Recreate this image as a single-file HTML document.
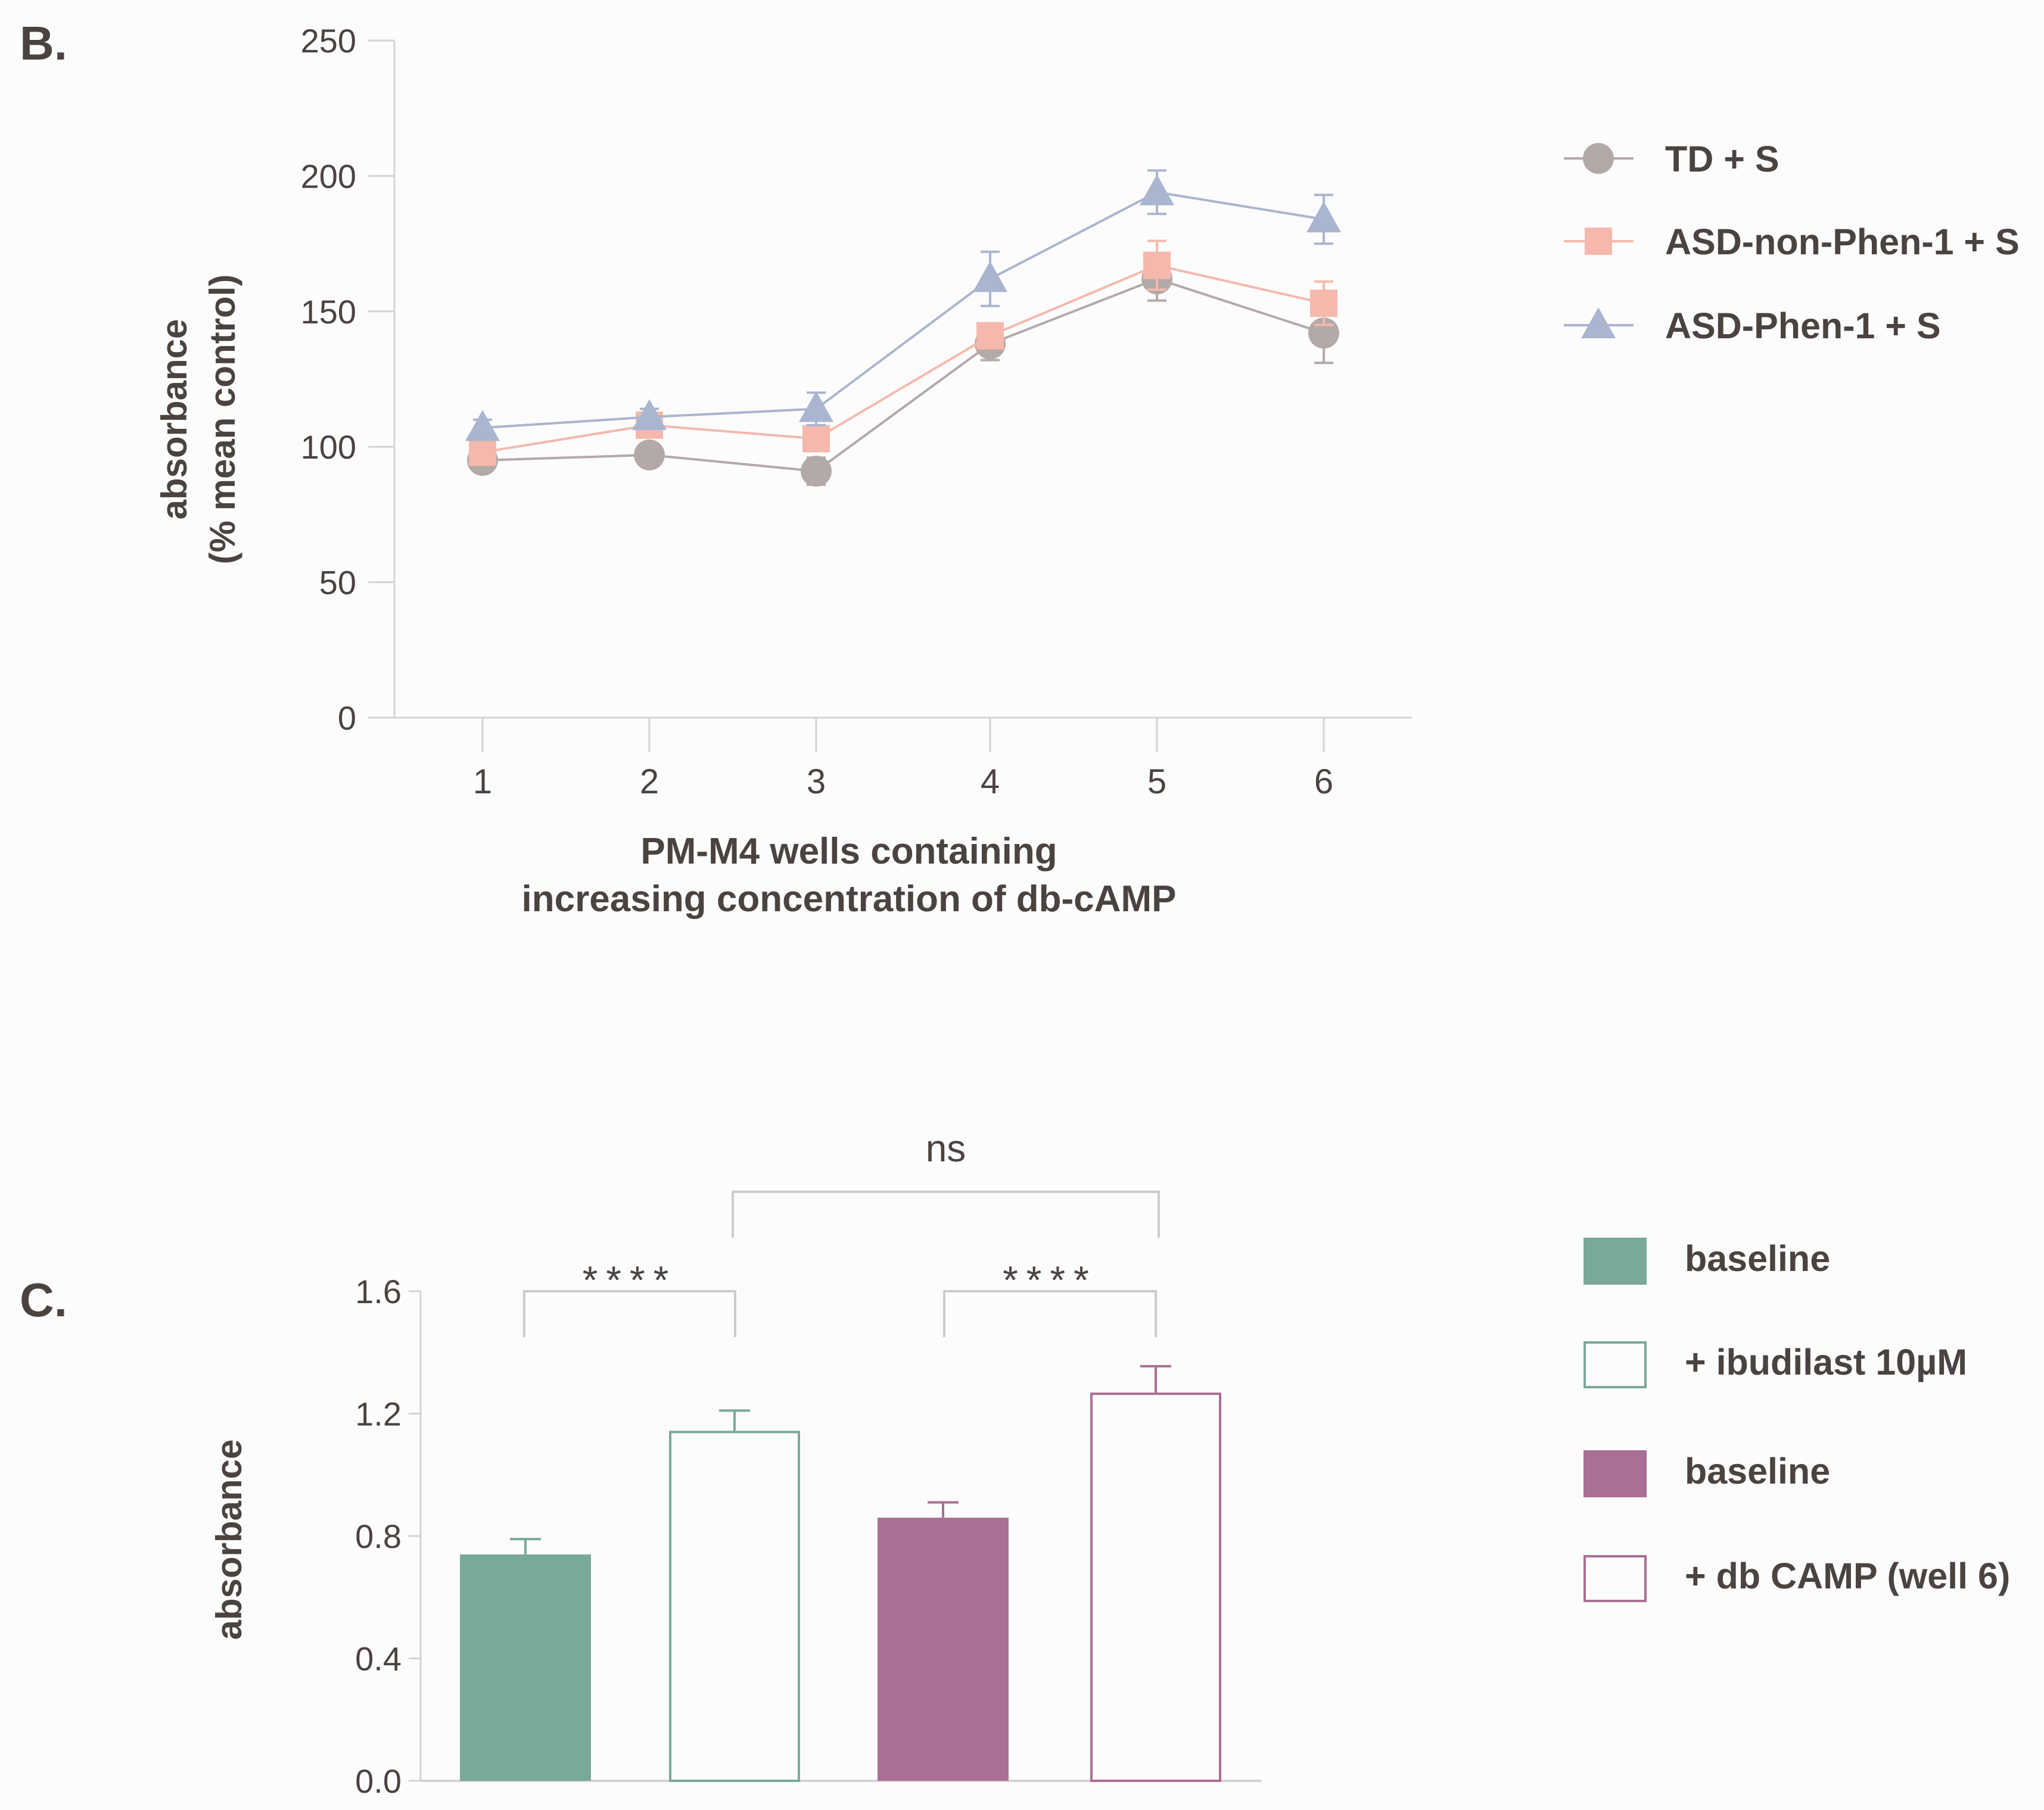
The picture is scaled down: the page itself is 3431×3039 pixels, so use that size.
<!DOCTYPE html>
<html><head><meta charset="utf-8">
<style>
html,body{margin:0;padding:0;background:#fdfcfc;}
svg{display:block;}
text{font-family:"Liberation Sans",Arial,sans-serif;fill:#4a4340;}
</style></head>
<body>
<svg id="fig" width="3431" height="3039" viewBox="0 0 3431 3039" xmlns="http://www.w3.org/2000/svg">
<rect width="3431" height="3039" fill="#fdfcfc"/>
<text x="33" y="100" font-size="80" font-weight="bold">B.</text>
<text x="33" y="2210" font-size="80" font-weight="bold">C.</text>
<g id="chartB"></g>
<g id="chartC"></g>
</svg>
<script>
// ---- Chart B data ----
const wells = [1,2,3,4,5,6];
const yTicksB = [0,50,100,150,200,250];
const tdMean = [95,97,91,138,162,142];
const tdErr = [3,3,5,6,8,11];
const nonMean = [98,108,103,141,167,153];
const nonErr = [3,3,4,4,9,8];
const phenMean = [107,111,114,162,194,184];
const phenErr = [3,3,6,10,8,9];
// ---- Chart C data ----
const barLabels = ["baseline","+ ibudilast 10µM","baseline","+ db CAMP (well 6)"];
const barValues = [0.74,1.14,0.86,1.265];
const barErrors = [0.05,0.07,0.05,0.09];
const yTicksC = [0.0,0.4,0.8,1.2,1.6];
const yTickLabelsC = ["0.0","0.4","0.8","1.2","1.6"];

const NS="http://www.w3.org/2000/svg";
function mk(parent,tag,attrs,txt){const e=document.createElementNS(NS,tag);for(const k in attrs)e.setAttribute(k,attrs[k]);if(txt!==undefined)e.textContent=txt;parent.appendChild(e);return e;}

// ===== Chart B =====
const gB=document.getElementById('chartB');
const xPosB=[810,1090,1370,1662,1942,2222];
function xB(i){return xPosB[i];}
function yB(v){return 1205-(v/250)*(1205-68);}
const axisCol="#d6d2d0";
let e;
e=mk(gB,'line',{x1:662,y1:68,x2:662,y2:1205,stroke:axisCol,'stroke-width':3});

e=mk(gB,'line',{x1:662,y1:1205,x2:2370,y2:1205,stroke:axisCol,'stroke-width':3});

yTicksB.forEach(v=>{
  e=mk(gB,'line',{x1:618,y1:yB(v),x2:662,y2:yB(v),stroke:axisCol,'stroke-width':3});
  
  e=mk(gB,'text',{x:598,y:yB(v)+20,'font-size':56,'text-anchor':'end'},String(v));
  
});
wells.forEach((w,i)=>{
  e=mk(gB,'line',{x1:xB(i),y1:1205,x2:xB(i),y2:1263,stroke:axisCol,'stroke-width':3});
  
  e=mk(gB,'text',{x:xB(i),y:1332,'font-size':58,'text-anchor':'middle'},String(w));
  
});
e=mk(gB,'text',{x:1425,y:1450,'font-size':62,'font-weight':'bold','text-anchor':'middle'},"PM-M4 wells containing");

e=mk(gB,'text',{x:1425,y:1530,'font-size':62,'font-weight':'bold','text-anchor':'middle'},"increasing concentration of db-cAMP");

e=mk(gB,'text',{x:0,y:0,'font-size':60,'font-weight':'bold','text-anchor':'middle',transform:'translate(313,704) rotate(-90)'},"absorbance");

e=mk(gB,'text',{x:0,y:0,'font-size':60,'font-weight':'bold','text-anchor':'middle',transform:'translate(394,704) rotate(-90)'},"(% mean control)");


function marker(g,type,cx,cy,col,name){
  let m;
  if(type==='circle')m=mk(g,'circle',{cx:cx,cy:cy,r:26,fill:col});
  else if(type==='square')m=mk(g,'rect',{x:cx-23,y:cy-23,width:46,height:46,fill:col});
  else m=mk(g,'polygon',{points:`${cx},${cy-30} ${cx-29},${cy+22} ${cx+29},${cy+22}`,fill:col});
  
}
function series(mean,err,col,type,name){
  const g=mk(gB,'g',{});
  
  const pts=mean.map((v,i)=>xB(i)+','+yB(v)).join(' ');
  e=mk(g,'polyline',{points:pts,fill:'none',stroke:col,'stroke-width':4});
  
  mean.forEach((v,i)=>{
    const x=xB(i);
    e=mk(g,'path',{d:`M${x},${yB(v-err[i])}V${yB(v+err[i])}M${x-16},${yB(v-err[i])}H${x+16}M${x-16},${yB(v+err[i])}H${x+16}`,stroke:col,'stroke-width':4,fill:'none'});
    
    marker(g,type,x,yB(v),col,name+'-point');
  });
}
const cTD="#b3aaa8",cNon="#f4b9ac",cPhen="#aab5d0";
series(tdMean,tdErr,cTD,'circle','td');
series(nonMean,nonErr,cNon,'square','asd-non-phen');
series(phenMean,phenErr,cPhen,'triangle','asd-phen');

const legB=[["TD + S",cTD,'circle',266],["ASD-non-Phen-1 + S",cNon,'square',405],["ASD-Phen-1 + S",cPhen,'triangle',546]];
legB.forEach(l=>{
  const g=mk(gB,'g',{});
  
  e=mk(g,'line',{x1:2625,y1:l[3],x2:2742,y2:l[3],stroke:l[1],'stroke-width':4});
  
  marker(g,l[2],2683,l[3],l[1],'legend-marker');
  e=mk(g,'text',{x:2795,y:l[3]+22,'font-size':61,'font-weight':'bold'},l[0]);
  
});

// ===== Chart C =====
const gC=document.getElementById('chartC');
function yC(v){return 2990-(v/1.6)*(2990-2168);}
const barX=[772,1123,1473,1830];
const barW=220;
const teal="#79a99b",purple="#a96f94";
const barFill=[teal,'none',purple,'none'];
const barStroke=[teal,teal,purple,purple];
e=mk(gC,'line',{x1:706,y1:2168,x2:706,y2:2990,stroke:axisCol,'stroke-width':3});

e=mk(gC,'line',{x1:706,y1:2990,x2:2118,y2:2990,stroke:axisCol,'stroke-width':4});

yTicksC.forEach((v,i)=>{
  e=mk(gC,'line',{x1:686,y1:yC(v),x2:706,y2:yC(v),stroke:axisCol,'stroke-width':3});
  
  e=mk(gC,'text',{x:674,y:yC(v)+20,'font-size':56,'text-anchor':'end'},yTickLabelsC[i]);
  
});
e=mk(gC,'text',{x:0,y:0,'font-size':60,'font-weight':'bold','text-anchor':'middle',transform:'translate(405,2585) rotate(-90)'},"absorbance");

barValues.forEach((v,i)=>{
  const x=barX[i],top=yC(v),cx=x+barW/2;
  const filled=barFill[i]!=='none';
  e=mk(gC,'rect',{x:filled?x:x+2,y:top,width:filled?barW:barW-4,height:2990-top,fill:filled?barFill[i]:'#fdfcfc',stroke:filled?'none':barStroke[i],'stroke-width':4});
  
  e=mk(gC,'path',{d:`M${cx},${top}V${yC(v+barErrors[i])}M${cx-26},${yC(v+barErrors[i])}H${cx+26}`,stroke:barStroke[i],'stroke-width':4,fill:'none'});
  
});
const brCol="#cfcbc9";
function bracket(x1,x2,yt,yb,label,ly,name){
  const g=mk(gC,'g',{});
  
  e=mk(g,'path',{d:`M${x1},${yb}V${yt}H${x2}V${yb}`,stroke:brCol,'stroke-width':4,fill:'none'});
  
  e=mk(g,'text',{x:(x1+x2)/2,y:ly,'font-size':label==='ns'?64:66,'text-anchor':'middle','letter-spacing':label==='ns'?0:14},label);
  
}
bracket(880,1234,2168,2245,"****",2172,'bracket-teal');
bracket(1585,1940,2168,2245,"****",2172,'bracket-purple');
bracket(1230,1945,2001,2078,"ns",1950,'bracket-ns');

const legC=[[teal,true,2078],[teal,false,2252],[purple,true,2435],[purple,false,2611]];
legC.forEach((l,i)=>{
  const g=mk(gC,'g',{});
  
  e=mk(g,'rect',{x:l[1]?2658:2660,y:l[1]?l[2]:l[2]+2,width:l[1]?106:102,height:l[1]?79:75,fill:l[1]?l[0]:'#fdfcfc',stroke:l[1]?'none':l[0],'stroke-width':4});
  
  e=mk(g,'text',{x:2828,y:l[2]+56,'font-size':61,'font-weight':'bold'},barLabels[i]);
  
});
</script>
</body></html>
